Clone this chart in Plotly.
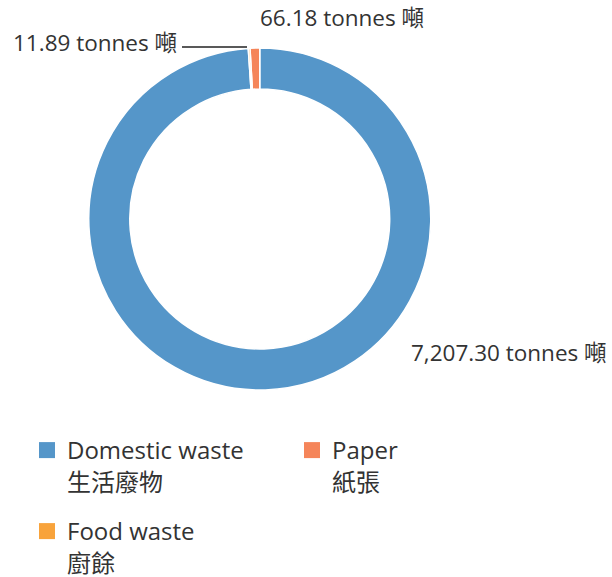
import plotly.graph_objects as go

# ---- data ----
labels_en = ["Domestic waste", "Paper", "Food waste"]
labels_zh = ["生活廢物", "紙張", "廚餘"]
values = [7207.30, 66.18, 11.89]
colors = ["#5596C9", "#F5855A", "#F8A33B"]
legend_rows = ["legend", "legend", "legend2"]
unit_text = "tonnes 噸"

W, H = 612, 577
FONT = "Open Sans, Noto Sans CJK TC, sans-serif"
TXT = "#333333"
FS_LABEL = 22.5
FS_LEGEND = 24

fig = go.Figure()
fig.add_trace(go.Pie(
    labels=labels_en,
    values=values,
    hole=0.76,
    sort=False,
    direction="counterclockwise",
    rotation=0,
    marker=dict(colors=colors, line=dict(color="white", width=1.5)),
    textinfo="none",
    hoverinfo="label+value",
    domain=dict(x=[88.5 / W, 431 / W], y=[1 - 390 / H, 1 - 48 / H]),
    showlegend=False,
))

# legend entries (square swatches) matching the slices
for en, zh, c, lg in zip(labels_en, labels_zh, colors, legend_rows):
    fig.add_trace(go.Scatter(
        x=[None], y=[None], mode="markers", name=f"{en}<br>{zh}",
        marker=dict(symbol="square", size=16, color=c, line=dict(width=0)),
        legend=lg, hoverinfo="skip",
    ))

def fmt(v):
    return f"{v:,.2f} {unit_text}"

ann_font = dict(family=FONT, size=FS_LABEL, color=TXT)
annotations = [
    dict(text=fmt(values[1]), x=258 / W, y=1 - 18 / H, xanchor="left", yanchor="middle"),
    dict(text=fmt(values[2]), x=179 / W, y=1 - 42.5 / H, xanchor="right", yanchor="middle"),
    dict(text=fmt(values[0]), x=409 / W, y=1 - 352 / H, xanchor="left", yanchor="middle"),
]
for a in annotations:
    a.update(xref="paper", yref="paper", showarrow=False, font=ann_font)

legend_common = dict(
    orientation="h", xanchor="left", yanchor="top", valign="top",
    font=dict(family=FONT, size=FS_LEGEND, color=TXT),
    bgcolor="rgba(0,0,0,0)", itemclick=False, itemdoubleclick=False,
)

fig.update_layout(
    width=W, height=H,
    margin=dict(l=0, r=0, t=0, b=0, autoexpand=False),
    paper_bgcolor="white", plot_bgcolor="white",
    font=dict(family=FONT, size=FS_LEGEND, color=TXT),
    xaxis=dict(visible=False), yaxis=dict(visible=False),
    annotations=annotations,
    shapes=[dict(type="line", xref="paper", yref="paper",
                 x0=182 / W, x1=247 / W, y0=1 - 47 / H, y1=1 - 47 / H,
                 line=dict(color="#222222", width=1.5))],
    legend=dict(legend_common, x=27 / W, y=1 - 428 / H,
                entrywidth=220, entrywidthmode="pixels"),
    legend2=dict(legend_common, x=27 / W, y=1 - 509 / H),
)

fig.write_html(
    "out.html",
    config={"displayModeBar": False},
    post_script="document.body.style.margin='0';document.body.style.padding='0';",
)
